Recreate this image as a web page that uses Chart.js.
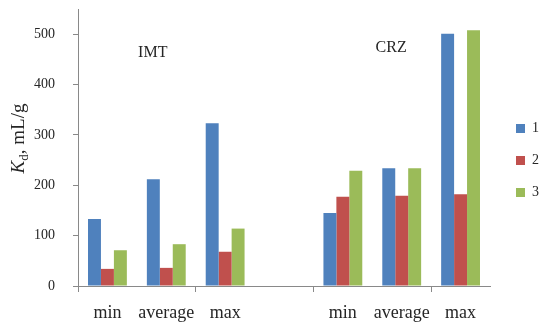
<!DOCTYPE html>
<html>
<head>
<meta charset="utf-8">
<script src="https://cdn.jsdelivr.net/npm/chart.js@4.4.1/dist/chart.umd.min.js"></script>
<style>
  html, body { margin: 0; padding: 0; background: #ffffff; }
  #wrap { width: 550px; height: 327px; }
</style>
</head>
<body>
<div id="wrap"><canvas id="c" width="550" height="327"></canvas></div>
<script>
// ---- data ----
const categories = ['min', 'average', 'max', '', 'min', 'average', 'max'];
const seriesNames = ['1', '2', '3'];
const series1 = [133, 212, 323, null, 145, 234, 501];
const series2 = [34, 36, 68, null, 177, 179, 182];
const series3 = [71, 83, 114, null, 229, 234, 508];
const yTicks = [0, 100, 200, 300, 400, 500];
const groupLabels = ['IMT', 'CRZ'];
const groupLabelAt = [[0.77, 463], [4.82, 473]]; // [category index, value]

const colors = ['#4F81BD', '#C0504D', '#9BBB59'];
const axisColor = '#898989';
const textColor = '#262626';
const serif = '"Liberation Serif", "Times New Roman", serif';

const annotPlugin = {
  id: 'annot',
  afterDraw(chart) {
    const ctx = chart.ctx;
    const xs = chart.scales.x, ys = chart.scales.y;
    ctx.save();
    ctx.fillStyle = textColor;
    ctx.font = '16px ' + serif;
    ctx.textAlign = 'center';
    ctx.textBaseline = 'middle';
    groupLabels.forEach((t, i) => {
      const [cx, v] = groupLabelAt[i];
      ctx.fillText(t, xs.getPixelForValue(cx), ys.getPixelForValue(v));
    });
    // y-axis title: K_d, mL/g
    const ca = chart.chartArea;
    const cy = (ca.top + ca.bottom) / 2 - 9;
    const fMain = '19px ' + serif;
    const fItal = 'italic 19px ' + serif;
    const fSub = '13px ' + serif;
    ctx.font = fItal; const wK = ctx.measureText('K').width;
    ctx.font = fSub; const wd = ctx.measureText('d').width;
    ctx.font = fMain; const wr = ctx.measureText(', mL/g').width;
    const total = wK + wd + wr;
    ctx.translate(24, cy);
    ctx.rotate(-Math.PI / 2);
    ctx.textAlign = 'left';
    ctx.textBaseline = 'alphabetic';
    let x = -total / 2;
    ctx.font = fItal; ctx.fillText('K', x, 0); x += wK;
    ctx.font = fSub; ctx.fillText('d', x, 4); x += wd;
    ctx.font = fMain; ctx.fillText(', mL/g', x, 0);
    ctx.restore();
  }
};

function noPad(s) { s.paddingTop = 0; s.paddingBottom = 0; s.paddingLeft = 0; s.paddingRight = 0; }

new Chart(document.getElementById('c'), {
  type: 'bar',
  data: {
    labels: categories,
    datasets: [
      { label: seriesNames[0], data: series1, backgroundColor: colors[0] },
      { label: seriesNames[1], data: series2, backgroundColor: colors[1] },
      { label: seriesNames[2], data: series3, backgroundColor: colors[2] }
    ]
  },
  options: {
    responsive: false,
    devicePixelRatio: 1,
    animation: false,
    layout: { autoPadding: false, padding: { left: 0, right: 1, top: 9, bottom: 0 } },
    datasets: { bar: { categoryPercentage: 0.66, barPercentage: 1.0, borderWidth: 0 } },
    plugins: {
      legend: {
        position: 'right',
        align: 'start',
        title: { display: true, text: '', font: { size: 10, lineHeight: 1 }, padding: { top: 42, bottom: 42.5 } },
        labels: {
          boxWidth: 9, boxHeight: 9, padding: 18,
          color: textColor,
          font: { family: serif, size: 14 }
        }
      },
      tooltip: { enabled: false },
      title: { display: false }
    },
    scales: {
      x: {
        offset: true,
        grid: {
          display: true, drawOnChartArea: false, drawTicks: true, tickLength: 6, offset: true,
          color: (c) => (c.index !== undefined && c.index % 2 === 0) ? axisColor : 'rgba(0,0,0,0)',
          tickColor: (c) => (c.index !== undefined && c.index % 2 === 0) ? axisColor : 'rgba(0,0,0,0)'
        },
        border: { display: true, color: axisColor, width: 1 },
        ticks: { color: textColor, font: { family: serif, size: 18 }, padding: 10, maxRotation: 0, autoSkip: false },
        afterFit: (s) => { s.height = 41; noPad(s); }
      },
      y: {
        min: 0, max: 550,
        grid: { display: true, drawOnChartArea: false, drawTicks: true, tickLength: 5, color: axisColor, tickColor: axisColor },
        border: { display: true, color: axisColor, width: 1 },
        afterBuildTicks: (s) => { s.ticks = yTicks.map(v => ({ value: v })); },
        ticks: { color: textColor, font: { family: serif, size: 14 }, padding: 18 },
        afterFit: (s) => { s.width = 78; noPad(s); }
      },
      pad: {
        type: 'linear', position: 'right', display: true,
        grid: { display: false, drawTicks: false },
        border: { display: false },
        ticks: { display: false },
        afterFit: (s) => { s.width = 8; noPad(s); }
      }
    }
  },
  plugins: [annotPlugin]
});
</script>
</body>
</html>
